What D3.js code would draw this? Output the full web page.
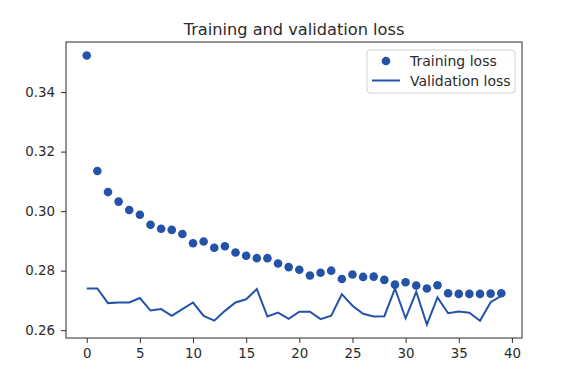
<!DOCTYPE html>
<html>
<head>
<meta charset="utf-8">
<script src="https://cdn.jsdelivr.net/npm/d3@7.9.0/dist/d3.min.js"></script>
<style>
  body { margin: 0; background: #fff; }
  svg { display: block; font-family: "DejaVu Sans", sans-serif; }
</style>
</head>
<body>
<svg width="571" height="378"></svg>
<script>
const epochs = d3.range(40);

const trainingLoss = [
  0.3523, 0.3135, 0.3064, 0.3032, 0.3004, 0.2988, 0.2954, 0.2941, 0.2937, 0.2923,
  0.2892, 0.2898, 0.2877, 0.2882, 0.2861, 0.2850, 0.2842, 0.2842, 0.2824, 0.2812,
  0.2803, 0.2784, 0.2793, 0.2800, 0.2772, 0.2787, 0.2779, 0.2780, 0.2769, 0.2753,
  0.2761, 0.2750, 0.2740, 0.2751, 0.2724, 0.2722, 0.2722, 0.2722, 0.2723, 0.2724
];

const validationLoss = [
  0.2740, 0.2740, 0.2691, 0.2693, 0.2693, 0.2708, 0.2666, 0.2671, 0.2648, 0.2671,
  0.2693, 0.2648, 0.2632, 0.2665, 0.2693, 0.2704, 0.2738, 0.2646, 0.2659, 0.2638,
  0.2662, 0.2662, 0.2637, 0.2649, 0.2721, 0.2682, 0.2655, 0.2646, 0.2647, 0.2740,
  0.2640, 0.2729, 0.2619, 0.2710, 0.2657, 0.2663, 0.2659, 0.2632, 0.2694, 0.2715
];

const xTicks = [0, 5, 10, 15, 20, 25, 30, 35, 40];
const yTicks = [0.26, 0.28, 0.30, 0.32, 0.34];

const blue = '#2452a8';
const ink = '#2b2b2b';
const plotLeft = 66, plotRight = 522, plotTop = 42, plotBottom = 338;

const svg = d3.select('svg');

// matplotlib style 5% margins
const xPad = (epochs.length - 1) * 0.05;
const x = d3.scaleLinear()
  .domain([-xPad, epochs.length - 1 + xPad])
  .range([plotLeft, plotRight]);

const allY = trainingLoss.concat(validationLoss);
const [yMin, yMax] = d3.extent(allY);
const yPad = (yMax - yMin) * 0.05;
const y = d3.scaleLinear()
  .domain([yMin - yPad, yMax + yPad])
  .range([plotBottom, plotTop]);

// validation line
let line = d3.line()
  .x((d, i) => x(epochs[i]))
  .y((d) => y(d));

svg.append('path')
  .datum(validationLoss)
  .attr('d', line)
  .attr('fill', 'none')
  .attr('stroke', blue)
  .attr('stroke-width', 2)
  .attr('stroke-linejoin', 'miter');

// training dots
svg.append('g')
  .selectAll('circle')
  .data(trainingLoss)
  .join('circle')
  .attr('cx', (d, i) => x(epochs[i]))
  .attr('cy', (d) => y(d))
  .attr('r', 4.3)
  .attr('fill', blue);

// axes
let xAxis = svg.append('g')
  .attr('transform', `translate(0,${plotBottom})`)
  .call(d3.axisBottom(x).tickValues(xTicks).tickSize(5).tickPadding(5).tickFormat(d3.format('d')));

let yAxis = svg.append('g')
  .attr('transform', `translate(${plotLeft},0)`)
  .call(d3.axisLeft(y).tickValues(yTicks).tickSize(5).tickPadding(6).tickFormat(d3.format('.2f')));

[xAxis, yAxis].forEach((g) => {
  g.select('.domain').remove();
  g.selectAll('.tick line').attr('stroke', ink).attr('stroke-width', 1);
  g.selectAll('.tick text')
    .attr('fill', ink)
    .style('font-size', '13.4px')
    .style('font-family', '"DejaVu Sans", sans-serif');
});

// frame
svg.append('rect')
  .attr('x', plotLeft)
  .attr('y', plotTop)
  .attr('width', plotRight - plotLeft)
  .attr('height', plotBottom - plotTop)
  .attr('fill', 'none')
  .attr('stroke', ink)
  .attr('stroke-width', 1);

// title
svg.append('text')
  .attr('x', (plotLeft + plotRight) / 2)
  .attr('y', 35)
  .attr('text-anchor', 'middle')
  .attr('fill', ink)
  .style('font-size', '16.2px')
  .text('Training and validation loss');

// legend
let legend = svg.append('g');
legend.append('rect')
  .attr('x', 367)
  .attr('y', 50)
  .attr('width', 148)
  .attr('height', 43)
  .attr('rx', 3)
  .attr('fill', '#fff')
  .attr('fill-opacity', 0.8)
  .attr('stroke', '#d0d0d0');

legend.append('circle')
  .attr('cx', 386)
  .attr('cy', 61)
  .attr('r', 4.3)
  .attr('fill', blue);

legend.append('line')
  .attr('x1', 372)
  .attr('x2', 400)
  .attr('y1', 80.5)
  .attr('y2', 80.5)
  .attr('stroke', blue)
  .attr('stroke-width', 2);

legend.selectAll('text')
  .data(['Training loss', 'Validation loss'])
  .join('text')
  .attr('x', 410)
  .attr('y', (d, i) => 66 + i * 19.5)
  .attr('fill', ink)
  .style('font-size', '14px')
  .text((d) => d);
</script>
</body>
</html>
